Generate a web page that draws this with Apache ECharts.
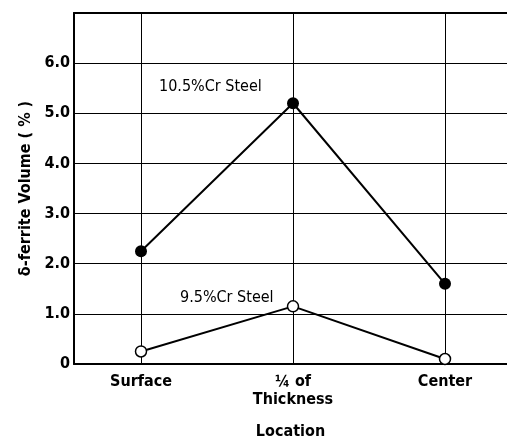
<!DOCTYPE html>
<html>
<head>
<meta charset="utf-8">
<script src="https://cdn.jsdelivr.net/npm/echarts@6/dist/echarts.min.js"></script>
<style>
  html, body { margin: 0; padding: 0; background: #fff; }
  #main { width: 507px; height: 445px; }
</style>
</head>
<body>
<div id="main"></div>
<script>
var locations = ['Surface', '¼ of\nThickness', 'Center'];
var steel105 = [2.25, 5.2, 1.6];
var steel95 = [0.25, 1.15, 0.1];
var yTicks = [0, 1, 2, 3, 4, 5, 6];

var font = '"DejaVu Sans Condensed", "Liberation Sans Narrow", sans-serif';

function pairs(vals) {
    return vals.map(function (v, i) { return [i, v]; });
}

var chart = echarts.init(document.getElementById('main'), null, { renderer: 'canvas' });

var option = {
    animation: false,
    grid: { left: 74, top: 13, right: 0, bottom: 78 },
    xAxis: [{
        type: 'value',
        min: -67 / 152,
        max: 366 / 152,
        axisLine: { onZero: false, lineStyle: { color: '#000', width: 2 } },
        axisTick: { show: false, customValues: [0, 1, 2] },
        splitLine: { show: true, lineStyle: { color: '#000', width: 1 } },
        axisLabel: {
            customValues: [0, 1, 2],
            formatter: function (v) { return locations[Math.round(v)]; },
            color: '#000', fontFamily: font, fontWeight: 'bold', fontSize: 16,
            lineHeight: 18, margin: 9, verticalAlign: 'top'
        },
        name: 'Location',
        nameLocation: 'middle',
        nameGap: 60,
        nameTextStyle: { color: '#000', fontFamily: font, fontWeight: 'bold', fontSize: 16 }
    }, {
        type: 'value',
        position: 'top',
        min: -67 / 152,
        max: 366 / 152,
        axisLine: { show: true, onZero: false, lineStyle: { color: '#000', width: 2 } },
        axisTick: { show: false },
        axisLabel: { show: false },
        splitLine: { show: false }
    }],
    yAxis: {
        type: 'value',
        min: 0, max: 7, interval: 1,
        axisLine: { show: true, onZero: false, lineStyle: { color: '#000', width: 2 } },
        axisTick: { show: false },
        splitLine: { show: true, lineStyle: { color: '#000', width: 1 } },
        axisLabel: {
            color: '#000', fontFamily: font, fontWeight: 'bold', fontSize: 16, margin: 4,
            formatter: function (v) {
                if (yTicks.indexOf(v) < 0) return '';
                return v === 0 ? '0' : v.toFixed(1);
            }
        },
        name: 'δ-ferrite Volume ( % )',
        nameLocation: 'middle',
        nameGap: 40,
        nameTextStyle: { color: '#000', fontFamily: font, fontWeight: 'bold', fontSize: 16 }
    },
    graphic: [
        { type: 'text', left: 159, top: 79, style: { text: '10.5%Cr Steel', font: '16px ' + font, fill: '#000' } },
        { type: 'text', left: 180, top: 290, style: { text: '9.5%Cr Steel', font: '16px ' + font, fill: '#000' } }
    ],
    series: [{
        name: '10.5%Cr Steel',
        type: 'line',
        data: pairs(steel105),
        symbol: 'circle',
        symbolSize: 12,
        lineStyle: { color: '#000', width: 2 },
        itemStyle: { color: '#000' }
    }, {
        name: '9.5%Cr Steel',
        type: 'line',
        data: pairs(steel95),
        symbol: 'circle',
        symbolSize: 11,
        lineStyle: { color: '#000', width: 2 },
        itemStyle: { color: '#fff', borderColor: '#000', borderWidth: 1.5 }
    }]
};

chart.setOption(option);
</script>
</body>
</html>
